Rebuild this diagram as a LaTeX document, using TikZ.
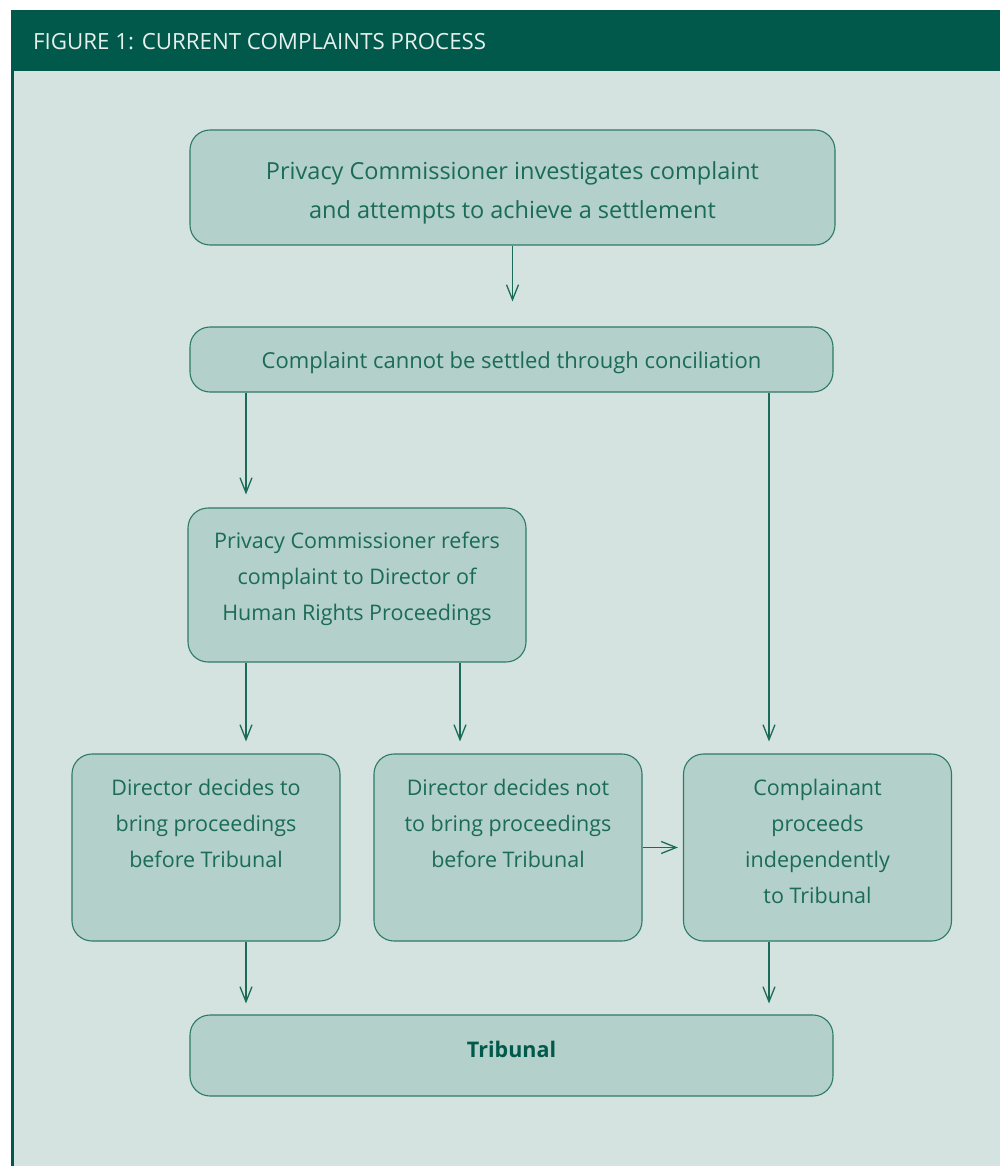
\documentclass[tikz,border=0pt]{standalone}
\usepackage{fontspec}
\setmainfont{Open Sans}
\usetikzlibrary{arrows.meta,calc}
\definecolor{hdr}{HTML}{00594A}
\definecolor{bgc}{HTML}{D4E3E0}
\definecolor{boxf}{HTML}{B3D0CA}
\definecolor{boxd}{HTML}{2E7A68}
\definecolor{txt}{HTML}{1A6B58}
\definecolor{hdrtxt}{HTML}{E6EFEC}
\newcommand{\dn}[1]{\rule[-#1]{0pt}{#1}}
\newcommand{\up}[1]{\rule{0pt}{#1}}
\begin{document}
\begin{tikzpicture}[x=1pt,y=-1pt,
  procbox/.style={draw=boxd, fill=boxf, line width=1.1pt, rounded corners=20pt,
    align=center, text=txt, inner sep=0pt, font=\fontsize{21.5}{36}\selectfont},
  rowbox/.style={procbox, minimum width=268pt, minimum height=187pt},
  arr/.style={draw=txt, line width=1.3pt, -{Straight Barb[length=15pt,width=12pt]}}]
\useasboundingbox (0,0) rectangle (1000,1166);
\fill[white] (0,0) rectangle (1000,1166);
\fill[hdr] (11,10) rectangle (1000,71);
\fill[bgc] (11,71) rectangle (1000,1166);
\draw[hdr, line width=3pt] (12.5,71) -- (12.5,1166);
\node[anchor=base west, text=hdrtxt, font=\fontsize{22.3}{26}\selectfont, inner sep=0pt] (title) at (33,50) {FIGURE 1: CURRENT COMPLAINTS PROCESS};

\node[procbox, minimum width=645pt, minimum height=115pt, font=\fontsize{23.5}{39}\selectfont] (b1) at (512.5,187.5)
  {\up{28pt}Privacy Commissioner investigates complaint\\and attempts to achieve a settlement};
\node[procbox, minimum width=643pt, minimum height=65pt, font=\fontsize{22}{36}\selectfont] (b2) at (511.5,359.5)
  {\up{22.7pt}Complaint cannot be settled through conciliation};
\node[procbox, minimum width=338pt, minimum height=154pt] (b3) at (357,585)
  {Privacy Commissioner refers\\complaint to Director of\\Human Rights Proceedings\dn{18pt}};
\node[rowbox] (b4) at (206,847.5) {Director decides to\\bring proceedings\\before Tribunal\\\dn{13pt}};
\node[rowbox] (b5) at (508,847.5) {Director decides not\\to bring proceedings\\before Tribunal\\\dn{13pt}};
\node[rowbox] (b6) at (817.5,847.5) {Complainant\\proceeds\\independently\\to Tribunal\dn{13pt}};
\node[procbox, minimum width=643pt, minimum height=81pt, font=\fontsize{21.5}{36}\selectfont\bfseries, text=hdr] (b7) at (511.5,1055.5) {Tribunal\dn{13pt}};

\coordinate (xl) at (246,0);
\coordinate (xm) at (460,0);
\coordinate (xr) at (769,0);

\draw[arr, shorten >=25pt] (b1.south) -- (b1.south |- b2.north);
\draw[arr, shorten >=13pt] (b2.south -| xl) -- (b3.north -| xl);
\draw[arr, shorten >=12pt] (b2.south -| xr) -- (b6.north -| xr);
\draw[arr, shorten >=12pt] (b3.south -| xl) -- (b4.north -| xl);
\draw[arr, shorten >=12pt] (b3.south -| xm) -- (b5.north -| xm);
\draw[arr, shorten >=5pt] (b5.east) -- (b6.west);
\draw[arr, shorten >=11pt] (b4.south -| xl) -- (b7.north -| xl);
\draw[arr, shorten >=11pt] (b6.south -| xr) -- (b7.north -| xr);
\end{tikzpicture}
\end{document}
